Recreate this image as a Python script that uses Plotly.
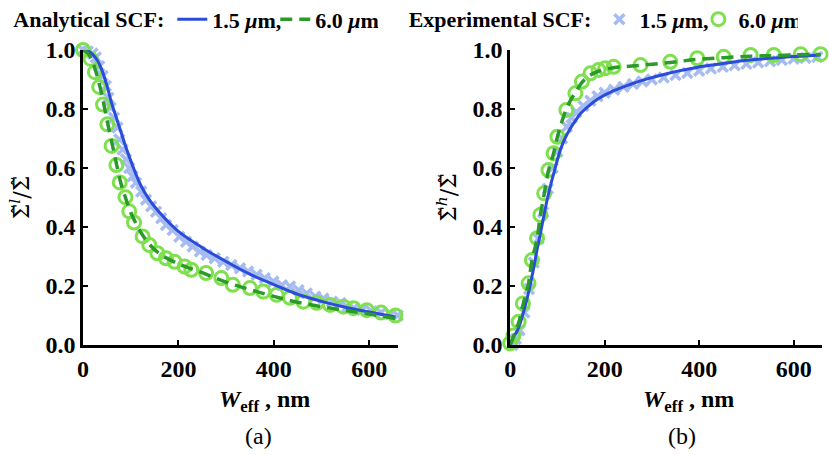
import plotly.graph_objects as go

# ---------------- Panel (a): Sigma^l / Sigma ----------------
a_ana15_x = [0, 10, 20, 30, 40, 50, 60, 70, 80, 90, 100, 120, 140, 160, 200, 250, 300, 350, 400, 450, 500, 550, 600, 655]
a_ana15_y = [1.0, 0.997, 0.985, 0.965, 0.93, 0.88, 0.82, 0.77, 0.72, 0.67, 0.625, 0.545, 0.49, 0.45, 0.385, 0.33, 0.283, 0.24, 0.205, 0.172, 0.148, 0.128, 0.112, 0.095]

a_ana60_x = [0, 10, 20, 30, 40, 50, 60, 70, 80, 90, 100, 120, 140, 160, 200, 250, 300, 350, 400, 450, 500, 550, 600, 655]
a_ana60_y = [1.0, 0.99, 0.96, 0.91, 0.845, 0.765, 0.69, 0.615, 0.545, 0.495, 0.45, 0.385, 0.34, 0.31, 0.275, 0.245, 0.213, 0.188, 0.165, 0.145, 0.13, 0.117, 0.105, 0.09]

a_exp15_x = [0, 10, 20, 27, 34, 41, 48, 53, 58, 65, 72, 76, 83, 90, 97, 104, 111, 122, 132, 143, 153, 164, 174, 188, 202, 216, 230, 245, 259, 276, 294, 311, 329, 346, 364, 381, 399, 417, 434, 452, 469, 487, 504, 522, 540, 554, 568, 585, 605, 625, 645, 660]
a_exp15_y = [1.0, 0.995, 0.988, 0.975, 0.945, 0.912, 0.878, 0.838, 0.804, 0.77, 0.737, 0.697, 0.663, 0.63, 0.6, 0.572, 0.55, 0.52, 0.492, 0.47, 0.452, 0.43, 0.407, 0.39, 0.367, 0.35, 0.334, 0.317, 0.305, 0.294, 0.282, 0.271, 0.26, 0.249, 0.238, 0.226, 0.215, 0.203, 0.198, 0.186, 0.175, 0.164, 0.158, 0.147, 0.142, 0.13, 0.125, 0.119, 0.114, 0.109, 0.104, 0.1]

a_exp60_x = [0, 16, 25, 34, 42, 51, 60, 70, 77, 89, 97, 107, 125, 139, 156, 174, 192, 213, 227, 258, 290, 314, 350, 378, 406, 434, 462, 490, 518, 546, 567, 595, 625, 655]
a_exp60_y = [1.0, 0.97, 0.925, 0.875, 0.815, 0.748, 0.675, 0.61, 0.551, 0.501, 0.453, 0.415, 0.368, 0.339, 0.311, 0.294, 0.282, 0.266, 0.255, 0.244, 0.227, 0.204, 0.193, 0.181, 0.17, 0.16, 0.147, 0.143, 0.136, 0.13, 0.125, 0.118, 0.11, 0.1]

# ---------------- Panel (b): Sigma^h / Sigma ----------------
b_ana15_x = [0, 7, 14, 21, 28, 35, 42, 49, 56, 64, 71, 78, 85, 92, 99, 106, 116, 127, 138, 148, 166, 184, 219, 255, 290, 325, 360, 395, 431, 466, 502, 537, 572, 615, 657]
b_ana15_y = [0.0, 0.028, 0.045, 0.073, 0.11, 0.152, 0.2, 0.254, 0.315, 0.378, 0.435, 0.49, 0.538, 0.58, 0.622, 0.66, 0.7, 0.733, 0.76, 0.783, 0.81, 0.832, 0.862, 0.884, 0.902, 0.917, 0.93, 0.941, 0.95, 0.958, 0.965, 0.97, 0.975, 0.979, 0.983]

b_ana60_x = [0, 7, 18, 27, 39, 46, 57, 64, 72, 81, 92, 100, 110, 119, 128, 138, 152, 170, 187, 201, 219, 276, 339, 396, 452, 509, 558, 615, 657]
b_ana60_y = [0.0, 0.028, 0.075, 0.135, 0.21, 0.285, 0.36, 0.44, 0.51, 0.59, 0.65, 0.705, 0.76, 0.8, 0.83, 0.855, 0.89, 0.915, 0.928, 0.935, 0.94, 0.948, 0.958, 0.968, 0.974, 0.979, 0.981, 0.984, 0.985]

b_exp15_x = [5, 12, 20, 30, 40, 50, 60, 70, 80, 90, 100, 110, 120, 130, 140, 155, 170, 185, 200, 220, 240, 260, 280, 300, 325, 350, 375, 400, 425, 450, 475, 500, 525, 550, 575, 600, 625, 650]
b_exp15_y = [0.0, 0.02, 0.05, 0.11, 0.19, 0.28, 0.36, 0.45, 0.53, 0.6, 0.655, 0.7, 0.74, 0.77, 0.79, 0.81, 0.828, 0.843, 0.855, 0.865, 0.875, 0.885, 0.893, 0.9, 0.907, 0.915, 0.922, 0.93, 0.937, 0.943, 0.948, 0.953, 0.958, 0.962, 0.966, 0.97, 0.973, 0.976]

b_exp60_x = [0, 7, 18, 27, 39, 46, 57, 64, 72, 81, 92, 100, 119, 138, 152, 170, 187, 201, 219, 276, 339, 396, 452, 509, 558, 615, 657]
b_exp60_y = [0.006, 0.032, 0.079, 0.141, 0.209, 0.288, 0.362, 0.441, 0.514, 0.593, 0.65, 0.706, 0.797, 0.853, 0.893, 0.921, 0.932, 0.938, 0.943, 0.949, 0.96, 0.972, 0.977, 0.983, 0.983, 0.986, 0.986]

x_ticks = [0, 200, 400, 600]
x_ticktext = ["<b>0</b>", "<b>200</b>", "<b>400</b>", "<b>600</b>"]
y_ticks = [0.0, 0.2, 0.4, 0.6, 0.8, 1.0]
y_ticktext = ["<b>0.0</b>", "<b>0.2</b>", "<b>0.4</b>", "<b>0.6</b>", "<b>0.8</b>", "<b>1.0</b>"]

C_BLUE = "#2B4BDB"
C_DGREEN = "#2A9A2A"
C_LBLUE = "#A6BCF0"
C_LGREEN = "#7EE04C"
SERIF = "Liberation Serif"
MATH = "DejaVu Serif"

fig = go.Figure()

def add_panel(xa, ya, legend, e15x, e15y, e60x, e60y, a15x, a15y, a60x, a60y):
    exp_leg = (legend == "legend2")
    ana_leg = (legend == "legend")
    fig.add_trace(go.Scatter(x=e15x, y=e15y, mode="markers", name="<b>1.5 <i>μ</i>m,</b>",
                             marker=dict(symbol="x-thin", size=10, color=C_LBLUE,
                                         line=dict(color=C_LBLUE, width=3.5)),
                             xaxis=xa, yaxis=ya, legend="legend2",
                             showlegend=exp_leg, legendrank=1, cliponaxis=False))
    fig.add_trace(go.Scatter(x=e60x, y=e60y, mode="markers", name="<b>6.0 <i>μ</i>m</b>",
                             marker=dict(symbol="circle-open", size=13, color=C_LGREEN,
                                         line=dict(color=C_LGREEN, width=3)),
                             xaxis=xa, yaxis=ya, legend="legend2",
                             showlegend=exp_leg, legendrank=2, cliponaxis=False))
    fig.add_trace(go.Scatter(x=a15x, y=a15y, mode="lines", name="<b>1.5 <i>μ</i>m,</b>",
                             line=dict(color=C_BLUE, width=3, shape="spline"),
                             xaxis=xa, yaxis=ya, legend="legend",
                             showlegend=ana_leg, legendrank=1, cliponaxis=False))
    fig.add_trace(go.Scatter(x=a60x, y=a60y, mode="lines", name="<b>6.0 <i>μ</i>m</b>",
                             line=dict(color=C_DGREEN, width=3.5, dash="12px,7px", shape="spline"),
                             xaxis=xa, yaxis=ya, legend="legend",
                             showlegend=ana_leg, legendrank=2, cliponaxis=False))

add_panel("x", "y", "legend", a_exp15_x, a_exp15_y, a_exp60_x, a_exp60_y,
          a_ana15_x, a_ana15_y, a_ana60_x, a_ana60_y)
add_panel("x2", "y2", "legend2", b_exp15_x, b_exp15_y, b_exp60_x, b_exp60_y,
          b_ana15_x, b_ana15_y, b_ana60_x, b_ana60_y)

tickfont = dict(family=SERIF, size=24, color="black")
axis_common = dict(showgrid=False, zeroline=False, showline=True, linecolor="black", linewidth=2.5,
                   ticks="inside", ticklen=5, tickwidth=2, tickcolor="black", tickfont=tickfont,
                   automargin=False)

legfont = dict(family=SERIF, size=22, color="black")

fig.update_layout(
    width=829, height=455,
    template="simple_white",
    margin=dict(l=83, r=7, t=50, b=110, autoexpand=False),
    paper_bgcolor="white", plot_bgcolor="white",
    font=dict(family=SERIF, color="black"),
    xaxis=dict(domain=[0, 0.426], range=[0, 660], tickvals=x_ticks, ticktext=x_ticktext, **axis_common),
    xaxis2=dict(domain=[0.578, 1.0], range=[0, 660], tickvals=x_ticks, ticktext=x_ticktext,
                anchor="y2", **axis_common),
    yaxis=dict(domain=[0, 1], range=[0, 1], tickvals=y_ticks, ticktext=y_ticktext,
               title=dict(text="Σ̃<sup><i>l</i></sup>/Σ̃", font=dict(family=MATH, size=22), standoff=10),
               **axis_common),
    yaxis2=dict(domain=[0, 1], range=[0, 1], tickvals=y_ticks, ticktext=y_ticktext, anchor="x2",
                title=dict(text="Σ̃<sup><i>h</i></sup>/Σ̃", font=dict(family=MATH, size=22), standoff=10),
                **axis_common),
    legend=dict(orientation="h", x=-0.097, xanchor="left", y=1.175, yanchor="top",
                title=dict(text="<b>Analytical SCF:</b>", side="left", font=legfont),
                font=legfont, bgcolor="rgba(0,0,0,0)", itemwidth=30,
                entrywidth=58, tracegroupgap=0, traceorder="normal"),
    legend2=dict(orientation="h", x=0.438, xanchor="left", y=1.175, yanchor="top",
                 title=dict(text="<b>Experimental SCF:</b>", side="left", font=legfont),
                 font=legfont, bgcolor="rgba(0,0,0,0)", itemwidth=30,
                 entrywidth=54, tracegroupgap=0, traceorder="normal"),
    showlegend=True,
)

xtitle = "<b><i>W</i><sub>eff</sub> , nm</b>"
fig.add_annotation(x=0.246, y=-0.19, xref="paper", yref="paper", text=xtitle, showarrow=False,
                   font=dict(family=SERIF, size=24, color="black"), xanchor="center", yanchor="middle")
fig.add_annotation(x=0.82, y=-0.19, xref="paper", yref="paper", text=xtitle, showarrow=False,
                   font=dict(family=SERIF, size=24, color="black"), xanchor="center", yanchor="middle")
fig.add_annotation(x=0.238, y=-0.31, xref="paper", yref="paper", text="(a)", showarrow=False,
                   font=dict(family=SERIF, size=24, color="black"), xanchor="center", yanchor="middle")
fig.add_annotation(x=0.811, y=-0.31, xref="paper", yref="paper", text="(b)", showarrow=False,
                   font=dict(family=SERIF, size=24, color="black"), xanchor="center", yanchor="middle")

fig.write_html("out.html", config={"displayModeBar": False},
               post_script="document.body.style.margin='0px';")
